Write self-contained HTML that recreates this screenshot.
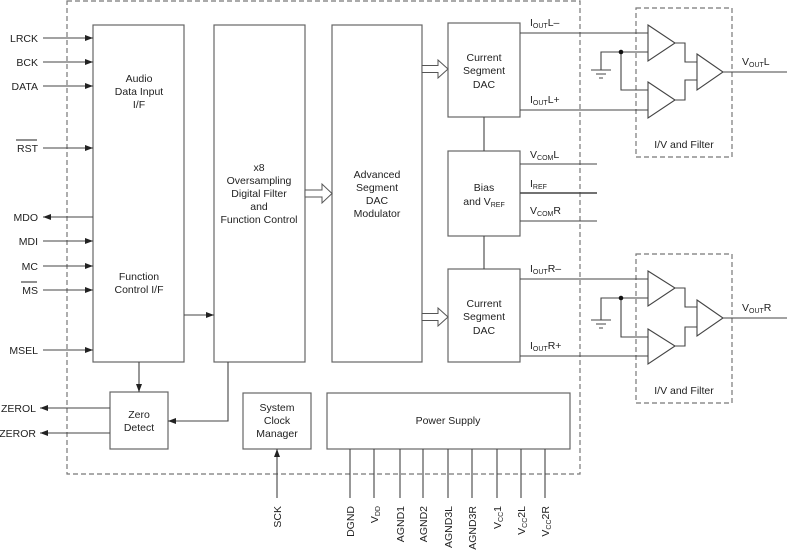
<!DOCTYPE html>
<html><head><meta charset="utf-8"><style>
html,body{margin:0;padding:0;background:#fff}
svg{display:block}
text{font-family:"Liberation Sans",Arial,sans-serif;font-size:10.5px;fill:#222}
</style></head><body>
<svg width="787" height="554" viewBox="0 0 787 554" xmlns="http://www.w3.org/2000/svg">
<defs>
<marker id="a" markerWidth="8" markerHeight="6" refX="8" refY="3" orient="auto" markerUnits="userSpaceOnUse"><path d="M0,0 L8,3 L0,6 Z" fill="#222"/></marker>
</defs>
<g fill="none" stroke="#777" stroke-width="1.2" stroke-dasharray="5,3">
<rect x="67" y="1" width="513" height="473"/>
<rect x="636" y="8" width="96" height="149"/>
<rect x="636" y="254" width="96" height="149"/>
</g>
<g fill="#fff" stroke="#666" stroke-width="1.2">
<rect x="93" y="25" width="91" height="337"/>
<rect x="214" y="25" width="91" height="337"/>
<rect x="332" y="25" width="90" height="337"/>
<rect x="448" y="23" width="72" height="94"/>
<rect x="448" y="151" width="72" height="85"/>
<rect x="448" y="269" width="72" height="93"/>
<rect x="110" y="392" width="58" height="57"/>
<rect x="243" y="393" width="68" height="56"/>
<rect x="327" y="393" width="243" height="56"/>
</g>
<!-- hollow arrows -->
<g fill="#fff" stroke="#555" stroke-width="1">
<path d="M305,190 H322 V184 L332,193.5 L322,203 V197 H305 Z"/>
<path d="M422,65.5 H438 V60 L448,69 L438,78 V72.5 H422 Z"/>
<path d="M422,313.5 H438 V308 L448,317 L438,326 V320.5 H422 Z"/>
</g>
<g stroke="#444" stroke-width="1.1" fill="none">
<line x1="43" y1="38" x2="93" y2="38" marker-end="url(#a)"/>
<line x1="43" y1="62" x2="93" y2="62" marker-end="url(#a)"/>
<line x1="43" y1="86" x2="93" y2="86" marker-end="url(#a)"/>
<line x1="43" y1="148" x2="93" y2="148" marker-end="url(#a)"/>
<line x1="93" y1="217" x2="43" y2="217" marker-end="url(#a)"/>
<line x1="43" y1="241" x2="93" y2="241" marker-end="url(#a)"/>
<line x1="43" y1="266" x2="93" y2="266" marker-end="url(#a)"/>
<line x1="43" y1="290" x2="93" y2="290" marker-end="url(#a)"/>
<line x1="43" y1="350" x2="93" y2="350" marker-end="url(#a)"/>
<line x1="184" y1="315" x2="214" y2="315" marker-end="url(#a)"/>
<line x1="139" y1="362" x2="139" y2="392" marker-end="url(#a)"/>
<path d="M228,362 V421 H168" marker-end="url(#a)"/>
<line x1="110" y1="408" x2="40" y2="408" marker-end="url(#a)"/>
<line x1="110" y1="433" x2="40" y2="433" marker-end="url(#a)"/>
<line x1="277" y1="498" x2="277" y2="449" marker-end="url(#a)"/>
<line x1="484" y1="117" x2="484" y2="151"/>
<line x1="484" y1="236" x2="484" y2="269"/>
<line x1="520" y1="164" x2="597" y2="164"/>
<line x1="520" y1="193" x2="597" y2="193" stroke-width="1.6"/>
<line x1="520" y1="221" x2="597" y2="221"/>
<g>
<line x1="350" y1="449" x2="350" y2="498"/><line x1="374" y1="449" x2="374" y2="498"/>
<line x1="400" y1="449" x2="400" y2="498"/><line x1="423" y1="449" x2="423" y2="498"/>
<line x1="448" y1="449" x2="448" y2="498"/><line x1="472" y1="449" x2="472" y2="498"/>
<line x1="497" y1="449" x2="497" y2="498"/><line x1="521" y1="449" x2="521" y2="498"/>
<line x1="545" y1="449" x2="545" y2="498"/>
</g>
</g>
<!-- filters -->
<g id="fl" stroke="#444" stroke-width="1.1" fill="none">
<line x1="520" y1="33" x2="648" y2="33"/>
<line x1="520" y1="110" x2="648" y2="110"/>
<path d="M648,25 L675,43 L648,61 Z" fill="#fff"/>
<path d="M648,82 L675,100 L648,118 Z" fill="#fff"/>
<path d="M697,54 L723,72 L697,90 Z" fill="#fff"/>
<path d="M675,43 H685 V62 H697 M675,100 H685 V80 H697"/>
<line x1="723" y1="72" x2="787" y2="72"/>
<path d="M601,70 V52 H648 M621,52 V90 H648"/>
<path d="M591,70 H611 M596,74 H606 M599,78 H603"/>
</g>
<circle cx="621" cy="52" r="2.3" fill="#111"/>
<g stroke="#444" stroke-width="1.1" fill="none">
<line x1="520" y1="279" x2="648" y2="279"/>
<line x1="520" y1="356" x2="648" y2="356"/>
<path d="M648,271 L675,288 L648,306 Z" fill="#fff"/>
<path d="M648,329 L675,346 L648,364 Z" fill="#fff"/>
<path d="M697,300 L723,318 L697,336 Z" fill="#fff"/>
<path d="M675,288 H685 V307 H697 M675,346 H685 V327 H697"/>
<line x1="723" y1="318" x2="787" y2="318"/>
<path d="M601,320 V298 H648 M621,298 V337 H648"/>
<path d="M591,320 H611 M596,324 H606 M599,328 H603"/>
</g>
<circle cx="621" cy="298" r="2.3" fill="#111"/>
<!-- labels -->
<g text-anchor="end">
<text x="38" y="42">LRCK</text><text x="38" y="66">BCK</text><text x="38" y="90">DATA</text>
<text x="38" y="152">RST</text><text x="38" y="221">MDO</text><text x="38" y="245">MDI</text>
<text x="38" y="270">MC</text><text x="38" y="294">MS</text><text x="38" y="354">MSEL</text>
<text x="36" y="412">ZEROL</text><text x="36" y="437">ZEROR</text>
</g>
<line x1="16" y1="140" x2="37" y2="140" stroke="#222" stroke-width="1"/>
<line x1="21" y1="282" x2="37" y2="282" stroke="#222" stroke-width="1"/>
<g text-anchor="middle">
<text x="139" y="82">Audio</text><text x="139" y="95">Data Input</text><text x="139" y="108">I/F</text>
<text x="139" y="280">Function</text><text x="139" y="293">Control I/F</text>
<text x="259" y="171">x8</text><text x="259" y="184">Oversampling</text><text x="259" y="197">Digital Filter</text><text x="259" y="210">and</text><text x="259" y="223">Function Control</text>
<text x="377" y="178">Advanced</text><text x="377" y="191">Segment</text><text x="377" y="204">DAC</text><text x="377" y="217">Modulator</text>
<text x="484" y="61">Current</text><text x="484" y="74">Segment</text><text x="484" y="88">DAC</text>
<text x="484" y="307">Current</text><text x="484" y="320">Segment</text><text x="484" y="334">DAC</text>
<text x="484" y="191">Bias</text><text x="484" y="205">and V<tspan font-size="7" dy="2">REF</tspan></text>
<text x="139" y="418">Zero</text><text x="139" y="431">Detect</text>
<text x="277" y="411">System</text><text x="277" y="424">Clock</text><text x="277" y="437">Manager</text>
<text x="448" y="424">Power Supply</text>
<text x="684" y="148">I/V and Filter</text>
<text x="684" y="394">I/V and Filter</text>
</g>
<text x="530" y="26">I<tspan font-size="7" dy="2">OUT</tspan><tspan dy="-2">L–</tspan></text>
<text x="530" y="103">I<tspan font-size="7" dy="2">OUT</tspan><tspan dy="-2">L+</tspan></text>
<text x="530" y="158">V<tspan font-size="7" dy="2">COM</tspan><tspan dy="-2">L</tspan></text>
<text x="530" y="187">I<tspan font-size="7" dy="2">REF</tspan></text>
<text x="530" y="214">V<tspan font-size="7" dy="2">COM</tspan><tspan dy="-2">R</tspan></text>
<text x="530" y="272">I<tspan font-size="7" dy="2">OUT</tspan><tspan dy="-2">R–</tspan></text>
<text x="530" y="349">I<tspan font-size="7" dy="2">OUT</tspan><tspan dy="-2">R+</tspan></text>
<text x="742" y="65">V<tspan font-size="7" dy="2">OUT</tspan><tspan dy="-2">L</tspan></text>
<text x="742" y="311">V<tspan font-size="7" dy="2">OUT</tspan><tspan dy="-2">R</tspan></text>
<g text-anchor="end">
<text transform="translate(281,506) rotate(-90)">SCK</text>
<text transform="translate(354,506) rotate(-90)">DGND</text>
<text transform="translate(378,506) rotate(-90)">V<tspan font-size="7" dy="2">DD</tspan></text>
<text transform="translate(404,506) rotate(-90)">AGND1</text>
<text transform="translate(427,506) rotate(-90)">AGND2</text>
<text transform="translate(452,506) rotate(-90)">AGND3L</text>
<text transform="translate(476,506) rotate(-90)">AGND3R</text>
<text transform="translate(501,506) rotate(-90)">V<tspan font-size="7" dy="2">CC</tspan><tspan dy="-2">1</tspan></text>
<text transform="translate(525,506) rotate(-90)">V<tspan font-size="7" dy="2">CC</tspan><tspan dy="-2">2L</tspan></text>
<text transform="translate(549,506) rotate(-90)">V<tspan font-size="7" dy="2">CC</tspan><tspan dy="-2">2R</tspan></text>
</g>
</svg>
</body></html>
